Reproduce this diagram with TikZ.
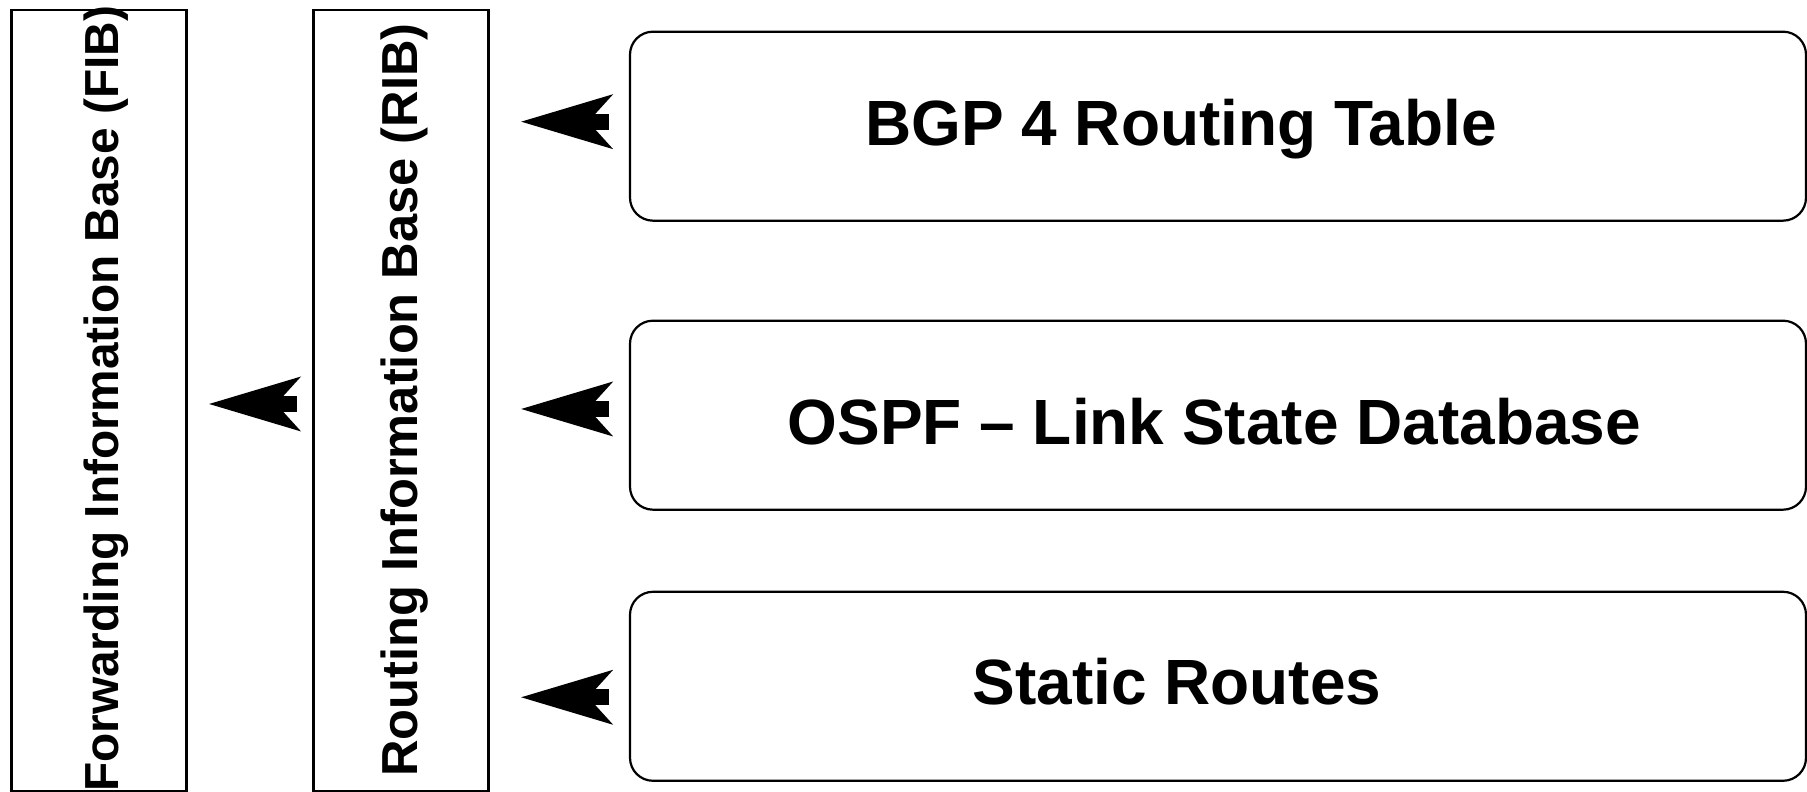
\documentclass[tikz,border=0pt]{standalone}
\usepackage{fontspec}
\setmainfont{Liberation Sans}
\usetikzlibrary{arrows.meta}

\begin{document}
\begin{tikzpicture}[
      basebox/.style={draw, line width=0.022cm, minimum width=1.75cm,
        minimum height=7.81cm, inner sep=0pt, outer sep=0pt},
      tablebox/.style={draw, line width=0.022cm, rounded corners=0.23cm,
        minimum width=11.76cm, minimum height=1.89cm, inner sep=0pt, outer sep=0pt},
      baselabel/.style={rotate=90, anchor=base west, inner sep=0pt},
      tablelabel/.style={anchor=base west, inner sep=0pt,
        font=\fontsize{18.2}{20}\selectfont\bfseries},
      feed/.style={line width=0.16cm,
        -{Stealth[length=0.92cm, width=0.55cm, inset=0.25cm, line width=0pt]}}]
  \useasboundingbox (0,0) rectangle (18.07,7.92);
  % the two bases
  \node[basebox] (fib) at (0.99,3.915) {};
  \node[basebox] (rib) at (4.01,3.915) {};
  \node[baselabel, font=\fontsize{13.6}{16}\selectfont\bfseries] (fiblabel) at (1.18,-0.005)
    {Forwarding Information Base (FIB)};
  \node[baselabel, font=\fontsize{14.4}{16}\selectfont\bfseries] (riblabel) at (4.173,0.146)
    {Routing Information Base (RIB)};
  % the route sources
  \node[tablebox] (bgp) at (12.18,6.658) {};
  \node[tablebox] (ospf) at (12.18,3.768) {};
  \node[tablebox] (static) at (12.18,1.057) {};
  \node[tablelabel] (bgplabel) at (8.645,6.46) {BGP 4 Routing Table};
  \node[tablelabel] (ospflabel) at (7.87,3.47) {OSPF – Link State Database};
  \node[tablelabel] (staticlabel) at (9.72,0.87) {Static Routes};
  % arrows
  \coordinate (bgpin) at ([yshift=0.45mm]bgp.west);
  \coordinate (ospfin) at ([yshift=0.62mm]ospf.west);
  \coordinate (staticin) at ([yshift=-1.1mm]static.west);
  \coordinate (ribin) at ([yshift=-0.35mm]rib.west);
  \draw[feed, shorten <=0.21cm, shorten >=0.327cm] (bgpin) -- (bgpin -| rib.east);
  \draw[feed, shorten <=0.21cm, shorten >=0.327cm] (ospfin) -- (ospfin -| rib.east);
  \draw[feed, shorten <=0.21cm, shorten >=0.327cm] (staticin) -- (staticin -| rib.east);
  \draw[feed, shorten <=0.17cm, shorten >=0.226cm] (ribin) -- (ribin -| fib.east);
\end{tikzpicture}
\end{document}
